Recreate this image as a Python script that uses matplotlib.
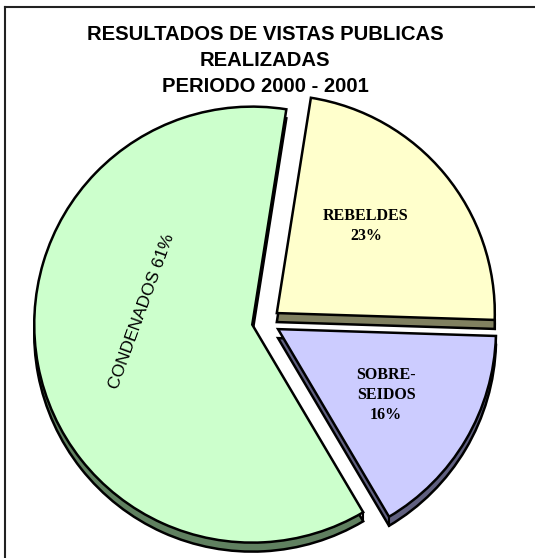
import numpy as np
import matplotlib.pyplot as plt
from matplotlib.lines import Line2D

# datos del grafico
categorias = ['REBELDES', 'SOBRESEIDOS', 'CONDENADOS']
porcentajes = [23, 16, 61]
etiquetas = ['REBELDES\n23%', 'SOBRE-\nSEIDOS\n16%', 'CONDENADOS 61%']
titulo = ['RESULTADOS DE VISTAS PUBLICAS', 'REALIZADAS', 'PERIODO 2000 - 2001']
colores = ['#FFFFCC', '#CCCCFF', '#CCFFCC']
colores_lado = ['#808060', '#606080', '#608060']

W, H = 535, 558
fig = plt.figure(figsize=(W / 100, H / 100), dpi=100)
ax = fig.add_axes([0, 0, 1, 1])

cx, cy = 266, H - 322   # centro (pixeles)
r = 218
prof = 9                # profundidad 3D
sep = [14, 14, 14]

# lado (sombra) y luego la cara superior
ax.pie(porcentajes, colors=colores_lado, radius=r, center=(cx, cy - prof),
       explode=sep, startangle=81, counterclock=False,
       wedgeprops=dict(edgecolor='black', linewidth=1.8))
cunas, _ = ax.pie(porcentajes, colors=colores, radius=r, center=(cx, cy),
                  explode=sep, startangle=81, counterclock=False,
                  wedgeprops=dict(edgecolor='black', linewidth=1.8))

# aristas verticales en las esquinas visibles
for w in cunas:
    x0, y0 = w.center
    for th in (w.theta1, w.theta2):
        c, s = np.cos(np.radians(th)), np.sin(np.radians(th))
        if c > 0.3:
            xe, ye = x0 + r * c, y0 + r * s
            ax.plot([xe, xe], [ye, ye - prof], color='black', lw=1.5, zorder=5)

ax.set_xlim(0, W)
ax.set_ylim(0, H)
ax.set_aspect('auto')
ax.axis('off')

# etiquetas
ax.text(366, H - 226, etiquetas[0], ha='center', va='center', fontsize=11.5,
        fontweight='bold', family='Liberation Serif', linespacing=1.35)
ax.text(386, H - 395, etiquetas[1], ha='center', va='center', fontsize=11.5,
        fontweight='bold', family='Liberation Serif', linespacing=1.35)
ax.text(142, H - 311, etiquetas[2], ha='center', va='center', fontsize=12.5,
        family='Liberation Sans', rotation=70, rotation_mode='anchor')

for linea, yy in zip(titulo, [35, 61, 87]):
    fig.text(265 / W, 1 - yy / H, linea, ha='center', va='center',
             fontsize=14.6, fontweight='bold', family='Liberation Sans')

# borde
fig.add_artist(Line2D([5 / W, 1], [1 - 7 / H, 1 - 7 / H], color='#222222', lw=1.5))
fig.add_artist(Line2D([5 / W, 5 / W], [0, 1 - 7 / H], color='#222222', lw=1.5))

fig.savefig('out.png', dpi=100)
